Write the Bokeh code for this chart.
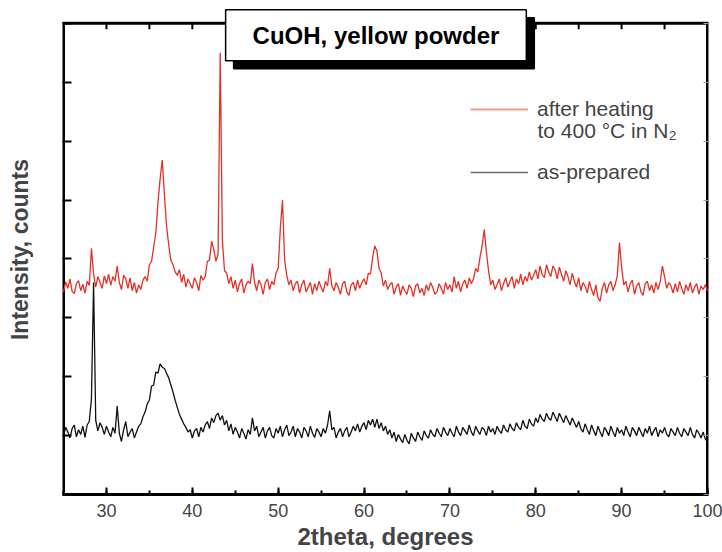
import numpy as np
from bokeh.plotting import figure
from bokeh.models import (LinearAxis, SingleIntervalTicker, Label, Range1d,
                          Legend, LegendItem)
from bokeh.embed import file_html
from bokeh.resources import INLINE

# 2theta sampling grid (degrees), 0.25 degree steps
two_theta = np.arange(25.0, 100.0001, 0.25)

# after heating to 400 C in N2 (offset trace)
heated = [
    3.44, 3.61, 3.50, 3.66, 3.45, 3.41, 3.58, 3.63, 3.46, 3.57, 3.42, 3.62, 3.55, 4.18, 3.74, 3.52, 3.70, 3.60, 3.50, 3.71,
    3.58, 3.74, 3.55, 3.70, 3.62, 3.88, 3.60, 3.48, 3.72, 3.66, 3.50, 3.68, 3.46, 3.60, 3.42, 3.56, 3.48, 3.64, 3.70, 3.62,
    3.90, 3.96, 4.20, 4.44, 4.96, 5.36, 5.68, 5.10, 4.56, 4.24, 3.98, 3.90, 3.78, 3.72, 3.82, 3.60, 3.74, 3.52, 3.66, 3.58,
    3.50, 3.68, 3.60, 3.46, 3.72, 3.64, 3.70, 3.96, 3.98, 4.30, 4.16, 3.96, 4.08, 7.50, 4.32, 3.80, 3.76, 3.58, 3.70, 3.50,
    3.64, 3.44, 3.58, 3.66, 3.42, 3.56, 3.62, 3.58, 3.92, 3.60, 3.46, 3.64, 3.56, 3.40, 3.60, 3.66, 3.48, 3.62, 3.56, 3.76,
    3.84, 4.52, 5.00, 3.98, 3.72, 3.56, 3.64, 3.46, 3.58, 3.62, 3.42, 3.56, 3.64, 3.44, 3.52, 3.60, 3.40, 3.58, 3.46, 3.62,
    3.52, 3.44, 3.62, 3.54, 3.84, 3.54, 3.46, 3.60, 3.52, 3.40, 3.58, 3.62, 3.44, 3.38, 3.56, 3.60, 3.46, 3.64, 3.50, 3.60,
    3.66, 3.56, 3.76, 3.74, 4.02, 4.22, 4.14, 3.84, 3.76, 3.54, 3.64, 3.48, 3.56, 3.60, 3.40, 3.52, 3.58, 3.38, 3.54, 3.46,
    3.40, 3.56, 3.50, 3.36, 3.54, 3.58, 3.42, 3.50, 3.38, 3.56, 3.46, 3.60, 3.52, 3.40, 3.44, 3.58, 3.50, 3.40, 3.60, 3.48,
    3.56, 3.44, 3.70, 3.50, 3.62, 3.44, 3.58, 3.64, 3.50, 3.68, 3.58, 3.66, 3.84, 3.78, 4.02, 4.22, 4.50, 4.12, 3.80, 3.56,
    3.64, 3.48, 3.56, 3.66, 3.46, 3.58, 3.68, 3.52, 3.62, 3.70, 3.50, 3.66, 3.58, 3.74, 3.56, 3.70, 3.62, 3.78, 3.64, 3.72,
    3.82, 3.66, 3.88, 3.74, 3.68, 3.90, 3.78, 3.70, 3.88, 3.82, 3.66, 3.86, 3.74, 3.62, 3.80, 3.70, 3.56, 3.76, 3.62, 3.52,
    3.68, 3.46, 3.60, 3.54, 3.42, 3.62, 3.48, 3.38, 3.56, 3.34, 3.28, 3.50, 3.60, 3.42, 3.56, 3.62, 3.46, 3.56, 3.72, 4.28,
    3.86, 3.56, 3.62, 3.44, 3.58, 3.64, 3.40, 3.54, 3.60, 3.44, 3.38, 3.58, 3.62, 3.46, 3.56, 3.42, 3.60, 3.48, 3.62, 3.88,
    3.70, 3.50, 3.60, 3.54, 3.42, 3.58, 3.44, 3.62, 3.50, 3.40, 3.56, 3.46, 3.60, 3.42, 3.52, 3.58, 3.40, 3.54, 3.48, 3.56,
    3.46,
]

# as-prepared trace
as_prepared = [
    1.00, 1.14, 1.06, 0.96, 1.12, 1.18, 0.98, 1.10, 1.02, 1.16, 0.97, 1.18, 1.24, 1.62, 3.60, 1.26, 1.08, 1.22, 1.14, 1.02,
    1.16, 1.06, 0.98, 1.14, 1.04, 1.50, 1.04, 0.90, 1.10, 1.24, 0.98, 1.06, 1.12, 0.96, 1.06, 1.16, 1.20, 1.32, 1.40, 1.54,
    1.60, 1.84, 1.86, 2.08, 2.06, 2.22, 2.16, 2.14, 2.06, 1.98, 1.86, 1.74, 1.60, 1.48, 1.36, 1.28, 1.20, 1.14, 1.06, 1.10,
    0.96, 1.08, 1.12, 0.98, 1.14, 1.06, 1.18, 1.24, 1.12, 1.30, 1.22, 1.34, 1.38, 1.26, 1.34, 1.18, 1.26, 1.08, 1.20, 1.02,
    1.14, 1.06, 0.96, 1.12, 1.04, 0.94, 1.10, 1.02, 1.30, 1.08, 1.16, 0.98, 1.06, 1.14, 0.96, 1.08, 1.14, 1.00, 0.96, 1.12,
    1.04, 1.16, 0.98, 1.10, 1.18, 1.00, 1.06, 1.16, 0.98, 1.12, 1.06, 0.96, 1.14, 1.08, 0.98, 1.16, 1.04, 0.97, 1.12, 1.06,
    0.98, 1.12, 1.04, 1.18, 1.42, 1.10, 1.14, 0.96, 1.06, 1.12, 0.98, 1.08, 1.14, 0.98, 1.06, 1.16, 1.08, 1.20, 1.06, 1.16,
    1.22, 1.10, 1.26, 1.18, 1.28, 1.14, 1.28, 1.12, 1.22, 1.08, 1.16, 1.02, 1.10, 0.96, 1.06, 0.90, 1.02, 0.94, 0.88, 1.02,
    0.92, 0.86, 1.04, 0.96, 0.90, 1.06, 0.98, 0.92, 1.08, 1.00, 0.96, 1.10, 1.02, 0.98, 1.12, 1.04, 0.98, 1.14, 1.06, 1.00,
    1.12, 1.04, 0.98, 1.16, 1.06, 1.00, 1.14, 1.08, 1.02, 1.18, 1.06, 1.00, 1.16, 1.08, 1.02, 1.14, 1.10, 1.00, 1.16, 1.06,
    1.12, 1.02, 1.16, 1.08, 1.04, 1.18, 1.10, 1.06, 1.20, 1.12, 1.08, 1.22, 1.14, 1.10, 1.26, 1.16, 1.12, 1.28, 1.20, 1.16,
    1.30, 1.22, 1.36, 1.28, 1.24, 1.38, 1.30, 1.26, 1.40, 1.32, 1.24, 1.38, 1.30, 1.22, 1.34, 1.26, 1.18, 1.30, 1.22, 1.14,
    1.24, 1.12, 1.06, 1.20, 1.10, 1.02, 1.18, 1.08, 1.00, 1.16, 1.06, 0.98, 1.14, 1.08, 1.00, 1.16, 1.06, 0.98, 1.14, 1.04,
    1.10, 1.00, 1.16, 1.06, 0.98, 1.14, 1.08, 1.00, 1.14, 1.06, 0.98, 1.12, 1.04, 1.16, 1.00, 1.08, 1.14, 0.98, 1.10, 1.04,
    1.14, 1.02, 0.98, 1.12, 1.06, 1.00, 1.14, 1.04, 0.98, 1.12, 1.06, 1.00, 1.14, 1.02, 0.96, 1.10, 1.04, 0.96, 1.06, 0.94,
    0.90,
]

assert len(heated) == len(two_theta) == len(as_prepared)

title_text = "CuOH, yellow powder"
legend_heated = ["after heating", "to 400 °C in N₂"]
legend_prepared = "as-prepared"
x_label = "2theta, degrees"
y_label = "Intensity, counts"

# axis box (data units) and top-edge tick positions
X_MIN, X_MAX = 25, 100
Y_MIN, Y_MAX = 0, 8
top_ticks = list(range(30, 100, 5))

FONT = "Liberation Sans"
RED = "#e53027"

# the frame is made a little larger than the drawn axis box, so that the
# title box can stick out above the top border without being clipped
p = figure(width=722, height=552, x_range=Range1d(24.88, 100.12), y_range=Range1d(0, 8.32),
           output_backend="svg", toolbar_location=None,
           min_border_left=62, min_border_right=14, min_border_top=4, min_border_bottom=55)
p.grid.visible = False
p.outline_line_color = None
p.background_fill_color = "white"
p.border_fill_color = "white"

xt = SingleIntervalTicker(interval=10, num_minor_ticks=2)
yt = SingleIntervalTicker(interval=1, num_minor_ticks=0)

xa = p.xaxis[0]
xa.ticker = xt
xa.axis_label = x_label
xa.axis_label_text_font = FONT
xa.axis_label_text_font_style = "bold"
xa.axis_label_text_font_size = "24px"
xa.axis_label_standoff = 3
xa.major_label_text_font = FONT
xa.major_label_text_font_size = "18px"
xa.major_label_standoff = 9
xa.major_tick_in = 7
xa.major_tick_out = 0
xa.minor_tick_in = 4
xa.minor_tick_out = 0
xa.major_tick_line_width = 2
xa.minor_tick_line_width = 2
xa.axis_line_width = 3

ya = p.yaxis[0]
ya.ticker = yt
ya.axis_label = y_label
ya.axis_label_text_font = FONT
ya.axis_label_text_font_style = "bold"
ya.axis_label_text_font_size = "23px"
ya.major_label_text_font_size = "1px"
ya.major_label_text_color = None
ya.major_label_standoff = 0
ya.axis_label_standoff = 30
ya.major_tick_in = 9
ya.major_tick_out = 0
ya.major_tick_line_width = 2
ya.axis_line_color = None

right = LinearAxis(ticker=yt, major_label_text_font_size="1px", major_label_text_color=None,
                   major_label_standoff=0,
                   major_tick_in=5, major_tick_out=0, major_tick_line_color="#999999",
                   major_tick_line_width=1, axis_line_color=None)
p.add_layout(right, "right")

# axis box border and the inward ticks of its top edge
p.line([X_MIN, X_MIN, X_MAX, X_MAX, X_MIN], [Y_MIN, Y_MAX, Y_MAX, Y_MIN, Y_MIN],
       line_color="black", line_width=3, line_join="miter")
p.segment(x0=top_ticks, y0=[Y_MAX] * len(top_ticks), x1=top_ticks,
          y1=[Y_MAX - 0.1] * len(top_ticks), line_color="black", line_width=2)

r_black = p.line(two_theta, as_prepared, line_color="#111111", line_width=1.3)
r_red = p.line(two_theta, heated, line_color=RED, line_width=1.3)

# legend swatches: same series styles, drawn lighter as in the reference legend
sw_red = p.line(x=[np.nan], y=[np.nan], line_color="#f2a090", line_width=2)
sw_black = p.line(x=[np.nan], y=[np.nan], line_color="#6e6e6e", line_width=1.5)

legend = Legend(items=[LegendItem(label=legend_heated[0], renderers=[sw_red]),
                       LegendItem(label=legend_prepared, renderers=[sw_black])],
                location=(408, 310), orientation="vertical", margin=0, padding=0,
                spacing=39, glyph_width=58, glyph_height=22, label_height=22,
                label_standoff=9, label_text_font=FONT, label_text_font_size="21px",
                border_line_alpha=0, background_fill_alpha=0)
p.add_layout(legend, "center")

p.add_layout(Label(x=80.20, y=6.18, text=legend_heated[1], text_font=FONT,
                   text_font_size="21px", text_align="left", text_baseline="middle"))

shadow = Label(x=61.39, y=7.80, text=title_text, text_font=FONT, text_font_style="bold",
               text_font_size="24px", text_align="center", text_baseline="middle",
               text_color="black", background_fill_color="black", border_line_color="black",
               border_line_width=1.5, padding=(27, 12), x_offset=8, y_offset=-8)
box = Label(x=61.39, y=7.80, text=title_text, text_font=FONT, text_font_style="bold",
            text_font_size="24px", text_align="center", text_baseline="middle",
            text_color="black", background_fill_color="white", border_line_color="black",
            border_line_width=1.5, padding=(27, 12))
p.add_layout(shadow)
p.add_layout(box)

open("out.html", "w").write(file_html(p, INLINE))
